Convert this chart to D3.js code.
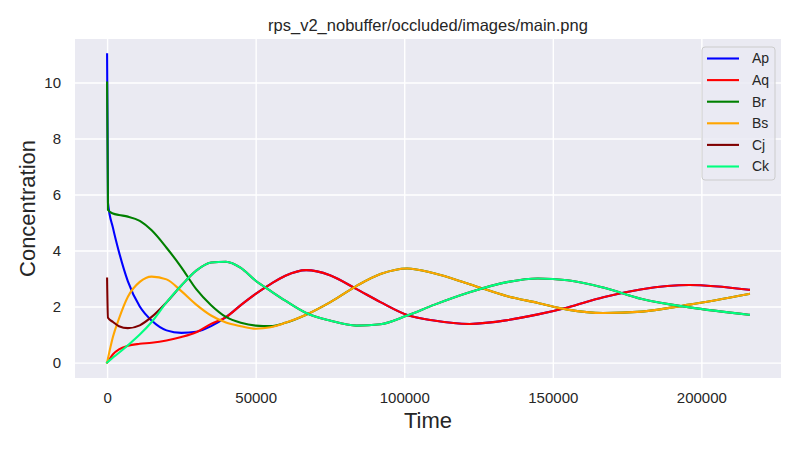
<!DOCTYPE html>
<html>
<head>
<meta charset="utf-8">
<script src="https://cdn.jsdelivr.net/npm/d3@7"></script>
<style>
  body { margin: 0; background: #ffffff; }
  text { font-family: "Liberation Sans", Arial, sans-serif; }
</style>
</head>
<body>
<div id="chart"></div>
<script>
// time points (s) and concentrations
var times = [0, 300, 2000, 4000, 7000, 11000, 15000, 20000, 25000, 30000, 35000, 40000, 45000, 50000, 55000, 60000, 67000, 75000, 84000, 92000, 101000, 110000, 122000, 135000, 145000, 155000, 167000, 180000, 196000, 216000];

var Ap = [11, 5.7, 4.8, 3.95, 2.9, 2.0, 1.5, 1.15, 1.06, 1.1, 1.3, 1.62, 2.05, 2.45, 2.8, 3.1, 3.3, 3.12, 2.62, 2.16, 1.7, 1.5, 1.38, 1.52, 1.72, 1.97, 2.33, 2.62, 2.77, 2.6];
var Aq = [0, 0.04, 0.3, 0.47, 0.6, 0.67, 0.71, 0.79, 0.91, 1.08, 1.38, 1.62, 2.05, 2.45, 2.8, 3.1, 3.3, 3.12, 2.62, 2.16, 1.7, 1.5, 1.38, 1.52, 1.72, 1.97, 2.33, 2.62, 2.77, 2.6];
var Br = [10, 5.45, 5.32, 5.27, 5.21, 5.06, 4.72, 4.1, 3.4, 2.62, 2.05, 1.63, 1.42, 1.32, 1.3, 1.42, 1.71, 2.15, 2.74, 3.16, 3.36, 3.19, 2.8, 2.36, 2.13, 1.89, 1.77, 1.82, 2.07, 2.45];
var Bs = [0, 0.15, 0.93, 1.57, 2.35, 2.88, 3.07, 2.97, 2.55, 2.07, 1.68, 1.43, 1.3, 1.21, 1.26, 1.42, 1.71, 2.15, 2.74, 3.16, 3.36, 3.19, 2.8, 2.36, 2.13, 1.89, 1.77, 1.82, 2.07, 2.45];
var Cj = [3.0, 1.6, 1.45, 1.3, 1.23, 1.33, 1.63, 2.15, 2.75, 3.28, 3.57, 3.6, 3.38, 2.92, 2.56, 2.21, 1.77, 1.5, 1.32, 1.37, 1.68, 2.06, 2.51, 2.88, 3.0, 2.94, 2.68, 2.27, 1.97, 1.71];
var Ck = [0, 0.03, 0.18, 0.35, 0.62, 1.0, 1.45, 2.15, 2.75, 3.28, 3.57, 3.6, 3.38, 2.92, 2.56, 2.21, 1.77, 1.5, 1.32, 1.37, 1.68, 2.06, 2.51, 2.88, 3.0, 2.94, 2.68, 2.27, 1.97, 1.71];

var seriesNames = ["Ap", "Aq", "Br", "Bs", "Cj", "Ck"];
var seriesValues = [Ap, Aq, Br, Bs, Cj, Ck];
var seriesColors = ["#0000ff", "#ff0000", "#008000", "#ffa500", "#800000", "#00ff7f"];

var xTicks = [0, 50000, 100000, 150000, 200000];
var yTicks = [0, 2, 4, 6, 8, 10];

var svgWidth = 800;
var svgHeight = 450;

var margin = {
  top: 39,
  bottom: 72,
  right: 19,
  left: 75,
};

var width = svgWidth - margin.left - margin.right;
var height = svgHeight - margin.top - margin.bottom;

var svg = d3
  .select("#chart")
  .append("svg")
  .attr("width", svgWidth)
  .attr("height", svgHeight);

var chartGroup = svg
  .append("g")
  .attr("transform", `translate(${margin.left}, ${margin.top})`);

// plot background
chartGroup
  .append("rect")
  .attr("width", width)
  .attr("height", height)
  .attr("fill", "#eaeaf2");

var xScale = d3.scaleLinear().domain([-10800, 226800]).range([0, width]);
var yScale = d3.scaleLinear().domain([-0.55, 11.55]).range([height, 0]);

var xAxis = d3
  .axisBottom(xScale)
  .tickValues(xTicks)
  .tickFormat(d3.format("d"))
  .tickSize(-height)
  .tickPadding(14.5);

var yAxis = d3
  .axisLeft(yScale)
  .tickValues(yTicks)
  .tickFormat(d3.format("d"))
  .tickSize(-width)
  .tickPadding(14);

var xAxisGroup = chartGroup
  .append("g")
  .attr("transform", `translate(0, ${height})`)
  .call(xAxis);

var yAxisGroup = chartGroup.append("g").call(yAxis);

[xAxisGroup, yAxisGroup].forEach(function (g) {
  g.select(".domain").remove();
  g.selectAll(".tick line").attr("stroke", "#ffffff").attr("stroke-width", 1.4);
  g.selectAll(".tick text")
    .attr("fill", "#262626")
    .style("font-size", "15px");
});

// lines
var line = d3
  .line()
  .x((d, i) => xScale(times[i]))
  .y((d) => yScale(d))
  .curve(d3.curveMonotoneX);

chartGroup
  .selectAll("path.series")
  .data(seriesValues)
  .enter()
  .append("path")
  .attr("class", "series")
  .attr("d", line)
  .attr("fill", "none")
  .attr("stroke", (d, i) => seriesColors[i])
  .attr("stroke-width", 2.1)
  .attr("stroke-linejoin", "round")
  .attr("stroke-linecap", "square");

// title and axis labels
svg
  .append("text")
  .attr("x", margin.left + width / 2)
  .attr("y", 31)
  .style("text-anchor", "middle")
  .style("font-size", "16.5px")
  .attr("fill", "#262626")
  .text("rps_v2_nobuffer/occluded/images/main.png");

svg
  .append("text")
  .attr("x", margin.left + width / 2)
  .attr("y", 428)
  .style("text-anchor", "middle")
  .style("font-size", "22px")
  .attr("fill", "#262626")
  .text("Time");

svg
  .append("text")
  .attr("transform", "rotate(-90)")
  .attr("x", -(margin.top + height / 2))
  .attr("y", 35)
  .style("text-anchor", "middle")
  .style("font-size", "22px")
  .attr("fill", "#262626")
  .text("Concentration");

// legend
var legend = chartGroup
  .append("g")
  .attr("transform", `translate(${width - 79}, 8)`);

legend
  .append("rect")
  .attr("width", 73)
  .attr("height", 133)
  .attr("rx", 3)
  .attr("fill", "#eaeaf2")
  .attr("fill-opacity", 0.8)
  .attr("stroke", "#cccccc")
  .attr("stroke-width", 1);

var legendItems = legend
  .selectAll("g.item")
  .data(seriesNames)
  .enter()
  .append("g")
  .attr("class", "item")
  .attr("transform", (d, i) => `translate(0, ${11.5 + i * 21.6})`);

legendItems
  .append("line")
  .attr("x1", 5)
  .attr("x2", 37)
  .attr("stroke", (d, i) => seriesColors[i])
  .attr("stroke-width", 2.1);

legendItems
  .append("text")
  .attr("x", 50)
  .attr("dy", "0.35em")
  .style("font-size", "14px")
  .attr("fill", "#262626")
  .text((d) => d);
</script>
</body>
</html>
